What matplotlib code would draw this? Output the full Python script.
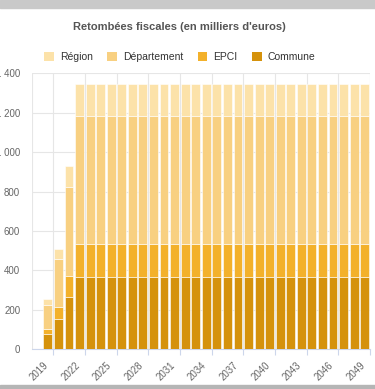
import numpy as np
import matplotlib.pyplot as plt
from matplotlib.patches import Rectangle, Patch

plt.rcParams['font.family'] = ['Liberation Sans', 'DejaVu Sans']

years = list(range(2019, 2050))

# stacked pieces (en milliers d'euros), bottom to top
commune = [78, 155, 265, 368, 368, 368, 368, 368, 368, 368, 368, 368, 368, 368, 368, 368,
           368, 368, 368, 368, 368, 368, 368, 368, 368, 368, 368, 368, 368, 368, 368]
epci = [27, 58, 108, 167, 167, 167, 167, 167, 167, 167, 167, 167, 167, 167, 167, 167,
        167, 167, 167, 167, 167, 167, 167, 167, 167, 167, 167, 167, 167, 167, 167]
departement = [120, 245, 449, 647, 647, 647, 647, 647, 647, 647, 647, 647, 647, 647, 647, 647,
               647, 647, 647, 647, 647, 647, 647, 647, 647, 647, 647, 647, 647, 647, 647]
region = [30, 52, 106, 164, 164, 164, 164, 164, 164, 164, 164, 164, 164, 164, 164, 164,
          164, 164, 164, 164, 164, 164, 164, 164, 164, 164, 164, 164, 164, 164, 164]

labels = ['Région', 'Département', 'EPCI', 'Commune']
colors = ['#fce2a9', '#f8d081', '#f3b12b', '#d5920c']
yticks = [0, 200, 400, 600, 800, 1000, 1200, 1400]
ytick_labels = ['0', '200', '400', '600', '800', '1 000', '1 200', '1 400']

W, H = 375, 389
fig = plt.figure(figsize=(W / 100, H / 100), dpi=100)
ax = fig.add_axes([32 / W, 1 - 349.3 / H, 338 / W, 276 / H])

x = np.arange(len(years))
series = [commune, epci, departement, region]
cols = colors[::-1]
bottom = np.zeros(len(years))
for vals, c in zip(series, cols):
    ax.bar(x, vals, width=0.84, bottom=bottom, color=c, edgecolor='white', linewidth=0.4, zorder=3)
    bottom += np.array(vals)

ax.set_xlim(-1.5, len(years) - 0.5)
ax.set_ylim(0, 1400)
ax.set_yticks(yticks)
ax.set_yticklabels(ytick_labels)
ax.yaxis.grid(True, color='#e6e6e6', linewidth=0.8, zorder=0)

# boundaries every 3 categories
bounds = np.arange(0.5, len(years), 3)
ax.set_xticks(bounds)
ax.set_xticklabels([])
for b in list(bounds) + [-1.5]:
    ax.axvline(b, color='#e6e6e6', linewidth=0.8, zorder=0)
ax.set_xticks(x[::3] - 0.45, minor=True)
ax.set_xticklabels([str(y) for y in years[::3]], minor=True, rotation=45,
                   ha='right', va='top', rotation_mode='anchor', color='#666666', fontsize=7)
ax.tick_params(axis='x', which='minor', length=0, pad=8)
ax.tick_params(axis='x', which='major', length=4, color='#ccd6eb', width=0.8)
ax.tick_params(axis='y', length=0, labelsize=7, labelcolor='#666666', pad=8.5)

for s in ['top', 'right', 'left']:
    ax.spines[s].set_visible(False)
ax.spines['bottom'].set_color('#ccd6eb')
ax.spines['bottom'].set_linewidth(0.8)

fig.text(179.5 / W, 1 - 27 / H, "Retombées fiscales (en milliers d'euros)", ha='center', va='center',
         fontsize=8, fontweight='bold', color='#555555')

handles = [Patch(facecolor=c, edgecolor='none') for c in colors]
fig.legend(handles, labels, loc='center', bbox_to_anchor=(180 / W, 1 - 57 / H), ncol=4, frameon=False,
           fontsize=7.5, handlelength=0.9, handleheight=0.9, handletextpad=0.6, columnspacing=1.4,
           labelcolor='#333333')

# grey bands at top and bottom of the capture
fig.patches.append(Rectangle((0, 1 - 8 / H), 1, 8 / H, transform=fig.transFigure, color='#c9c9c9', zorder=0))
fig.patches.append(Rectangle((0, 0), 1, 4 / H, transform=fig.transFigure, color='#b5b5b5', zorder=0))

fig.savefig('out.png', dpi=100)
